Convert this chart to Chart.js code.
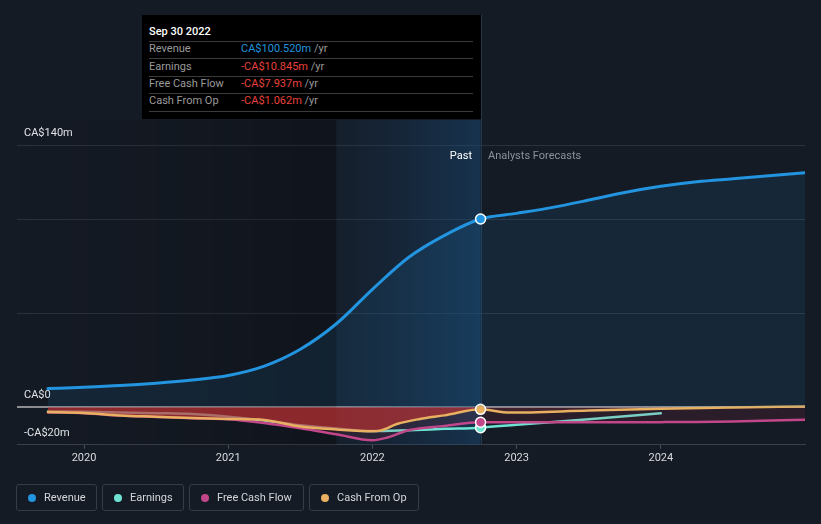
<!DOCTYPE html>
<html><head><meta charset="utf-8">
<script src="https://cdn.jsdelivr.net/npm/chart.js@4/dist/chart.umd.min.js"></script>
<style>
html,body{margin:0;padding:0;background:#151b25;width:821px;height:524px;overflow:hidden;font-family:Roboto,"Noto Sans",sans-serif}
#wrap{position:absolute;left:0;top:0;width:821px;height:524px}
.abs{position:absolute;white-space:nowrap;font-size:11px;line-height:14px}
#tip{position:absolute;left:142px;top:15px;width:339px;height:104px;background:#000}
.sep{position:absolute;left:149px;width:324px;height:1px;background:#3b3b3b}
.lg{position:absolute;top:484px;height:27px;border:1px solid #363c47;border-radius:3px;box-sizing:border-box;color:#d4d6da;font-size:11px}
.lg i{position:absolute;top:9px;width:8px;height:8px;border-radius:50%;left:11px}
.lg span{position:absolute;left:27px;top:5px;line-height:16px}
</style></head>
<body>
<div id="wrap"><canvas id="c" width="821" height="524"></canvas></div>
<div id="tip"></div>
<div class="abs" style="left:149px;top:25px;color:#fff;font-weight:500">Sep 30 2022</div>
<div class="sep" style="top:41px"></div>
<div class="abs" style="left:149px;top:42px;color:#9a9a9a">Revenue</div>
<div class="abs" style="left:241px;top:42px;color:#2394df">CA$100.520m <span style="color:#9a9a9a">/yr</span></div>
<div class="sep" style="top:58px"></div>
<div class="abs" style="left:149px;top:60px;color:#9a9a9a">Earnings</div>
<div class="abs" style="left:241px;top:60px;color:#e8413b">-CA$10.845m <span style="color:#9a9a9a">/yr</span></div>
<div class="sep" style="top:76px"></div>
<div class="abs" style="left:149px;top:77px;color:#9a9a9a">Free Cash Flow</div>
<div class="abs" style="left:241px;top:77px;color:#e8413b">-CA$7.937m <span style="color:#9a9a9a">/yr</span></div>
<div class="sep" style="top:93px"></div>
<div class="abs" style="left:149px;top:94px;color:#9a9a9a">Cash From Op</div>
<div class="abs" style="left:241px;top:94px;color:#e8413b">-CA$1.062m <span style="color:#9a9a9a">/yr</span></div>
<div class="sep" style="top:111px"></div>
<div class="abs" style="left:448px;top:149px;color:#fff;width:24px;text-align:right">Past</div>
<div class="abs" style="left:488px;top:149px;color:#8b9098">Analysts Forecasts</div>
<div class="lg" style="left:16px;width:81px"><i style="background:#2394df"></i><span>Revenue</span></div>
<div class="lg" style="left:102px;width:82px"><i style="background:#6fe3d2"></i><span>Earnings</span></div>
<div class="lg" style="left:189px;width:115px"><i style="background:#c2478a"></i><span>Free Cash Flow</span></div>
<div class="lg" style="left:309px;width:110px"><i style="background:#e8b060"></i><span>Cash From Op</span></div>
<script>
// ---- data (CA$ millions, x = decimal year) ----
const pastEnd = 2022.75;
const highlightStart = 2021.75;
const xTickYears = [2020, 2021, 2022, 2023, 2024];
const yTickValues = [-20, 0, 50, 100, 140];
const yTickLabels = {"-20": "-CA$20m", "0": "CA$0", "140": "CA$140m"};

const revenueDates  = [2019.75,2020,2020.25,2020.5,2020.75,2021,2021.25,2021.5,2021.75,2022,2022.25,2022.5,2022.75,2023,2023.25,2023.5,2023.75,2024,2024.25,2024.5,2024.75,2025];
const revenueValues = [10.0,10.7,11.6,12.9,14.6,17.0,22.0,31.0,44.6,63.0,80.0,91.8,100.52,103.5,106.7,110.6,114.7,118.0,120.4,122.0,123.6,125.2];

const earningsDates  = [2019.75,2020,2020.25,2020.5,2020.75,2021,2021.25,2021.5,2021.75,2022,2022.25,2022.5,2022.75,2023,2023.5,2024];
const earningsValues = [-2.2,-2.4,-2.7,-3.1,-3.6,-5.0,-7.0,-9.6,-11.3,-12.7,-12.2,-11.5,-10.845,-9.3,-6.4,-3.2];

const fcfDates  = [2019.75,2020,2020.25,2020.5,2020.75,2021,2021.25,2021.5,2021.75,2022,2022.1,2022.25,2022.5,2022.75,2023,2023.5,2024,2024.25,2024.5,2025];
const fcfValues = [-2.7,-3.1,-4.4,-5.1,-5.8,-6.4,-8.4,-11.2,-14.4,-17.6,-16.2,-12.2,-9.9,-7.937,-7.95,-7.95,-7.9,-7.8,-7.5,-6.6];

const cfoDates  = [2019.75,2020,2020.25,2020.5,2020.75,2021,2021.25,2021.5,2021.75,2022,2022.06,2022.17,2022.33,2022.5,2022.75,2022.95,2023.5,2024,2024.5,2025];
const cfoValues = [-2.5,-3.0,-4.3,-5.0,-5.7,-6.2,-6.8,-10.2,-11.8,-12.8,-12.3,-8.9,-6.2,-4.3,-1.062,-2.8,-1.7,-0.8,-0.1,0.5];

const COLORS = {revenue:'#2394df', earnings:'#6fe3d2', fcf:'#c2478a', cfo:'#e8b060'};

function pts(xs, ys){ return xs.map((x,i)=>({x:x, y:ys[i]})); }
function splitFill(pastColor, futureColor){
  return (ctx) => {
    const chart = ctx.chart, ca = chart.chartArea;
    if (!ca) return pastColor;
    const p = chart.scales.x.getPixelForValue(pastEnd);
    const f = Math.min(1, Math.max(0, (p - ca.left) / (ca.right - ca.left)));
    const g = chart.ctx.createLinearGradient(ca.left, 0, ca.right, 0);
    g.addColorStop(0, pastColor); g.addColorStop(f, pastColor);
    g.addColorStop(f, futureColor); g.addColorStop(1, futureColor);
    return g;
  };
}
const markerRadius = (ctx) => (ctx.raw && ctx.raw.x === pastEnd) ? 5 : 0;

const bgPlugin = {
  id: 'bgPlugin',
  beforeDatasetsDraw(chart){
    const {ctx, chartArea: ca, scales:{x}} = chart;
    const x0 = x.getPixelForValue(highlightStart), x1 = x.getPixelForValue(pastEnd);
    ctx.save();
    let g = ctx.createLinearGradient(ca.left, 0, x0, 0);
    g.addColorStop(0, 'rgba(0,0,0,0)'); g.addColorStop(1, 'rgba(0,0,0,0.22)');
    ctx.fillStyle = g; ctx.fillRect(ca.left, ca.top - 25, x0 - ca.left, ca.bottom - ca.top + 25);
    g = ctx.createLinearGradient(x0, 0, x1, 0);
    g.addColorStop(0, 'rgba(25,60,95,0.12)'); g.addColorStop(1, 'rgba(25,75,120,0.5)');
    ctx.fillStyle = g; ctx.fillRect(x0, ca.top - 25, x1 - x0, ca.bottom - ca.top + 25);
    ctx.strokeStyle = '#24384c'; ctx.lineWidth = 1;
    ctx.beginPath(); ctx.moveTo(Math.round(x1) + 0.5, 15); ctx.lineTo(Math.round(x1) + 0.5, ca.bottom); ctx.stroke();
    ctx.restore();
  }
};

Chart.defaults.font.family = 'Roboto';
new Chart(document.getElementById('c'), {
  type: 'line',
  data: {
    datasets: [
      {label:'Revenue', data: pts(revenueDates, revenueValues), borderColor: COLORS.revenue, borderWidth: 3,
       fill: 'origin', backgroundColor: splitFill('rgba(35,148,223,0.10)', 'rgba(35,148,223,0.10)'),
       pointRadius: markerRadius, pointBackgroundColor: COLORS.revenue, pointBorderColor: '#fff', pointBorderWidth: 1.5, order: 0},
      {label:'Earnings', data: pts(earningsDates, earningsValues), borderColor: COLORS.earnings, borderWidth: 2.5,
       fill: false, pointRadius: markerRadius, pointBackgroundColor: COLORS.earnings, pointBorderColor: '#fff', pointBorderWidth: 1.5, order: 3},
      {label:'Free Cash Flow', data: pts(fcfDates, fcfValues), borderColor: COLORS.fcf, borderWidth: 2.5,
       fill: 'origin', backgroundColor: splitFill('rgba(200,50,80,0.12)', 'rgba(200,50,80,0.12)'),
       pointRadius: markerRadius, pointBackgroundColor: COLORS.fcf, pointBorderColor: '#fff', pointBorderWidth: 1.5, order: 2},
      {label:'Cash From Op', data: pts(cfoDates, cfoValues), borderColor: COLORS.cfo, borderWidth: 2.5,
       fill: 'origin', backgroundColor: splitFill('rgba(200,50,50,0.62)', 'rgba(200,60,70,0.14)'),
       pointRadius: markerRadius, pointBackgroundColor: COLORS.cfo, pointBorderColor: '#fff', pointBorderWidth: 1.5, order: 1}
    ]
  },
  options: {
    responsive: false, animation: false, events: [],
    layout: {padding: {left: 3, right: 16, top: 145, bottom: 56}},
    elements: {line: {cubicInterpolationMode: 'monotone', tension: 0.4, borderCapStyle: 'round'}, point: {hoverRadius: 0}},
    plugins: {legend: {display: false}, tooltip: {enabled: false}},
    scales: {
      x: {
        type: 'linear', min: 2019.535, max: 2025.0,
        afterBuildTicks: (s) => { s.ticks = xTickYears.map(v => ({value: v})); },
        ticks: {color: '#d8dade', font: {size: 11, family: '"Liberation Sans Narrow", Roboto'}, padding: 3, maxRotation: 0,
                callback: (v) => String(v)},
        grid: {display: true, drawOnChartArea: false, drawTicks: true, tickLength: 4, color: '#4a505a'},
        border: {display: true, color: '#3a404a', width: 1}
      },
      y: {
        type: 'linear', min: -20, max: 140,
        afterBuildTicks: (s) => { s.ticks = yTickValues.map(v => ({value: v})); },
        ticks: {mirror: true, padding: 7, labelOffset: -12, color: '#e4e6ea', font: {size: 11},
                callback: (v) => yTickLabels[String(v)] || ''},
        grid: {drawTicks: false,
               color: (c) => c.tick && c.tick.value === 0 ? '#8c8e92' : (c.tick && c.tick.value === -20 ? 'rgba(0,0,0,0)' : '#2a313c'),
               lineWidth: (c) => c.tick && c.tick.value === 0 ? 2 : 1},
        border: {display: false}
      }
    }
  },
  plugins: [bgPlugin]
});
</script>
</body></html>
